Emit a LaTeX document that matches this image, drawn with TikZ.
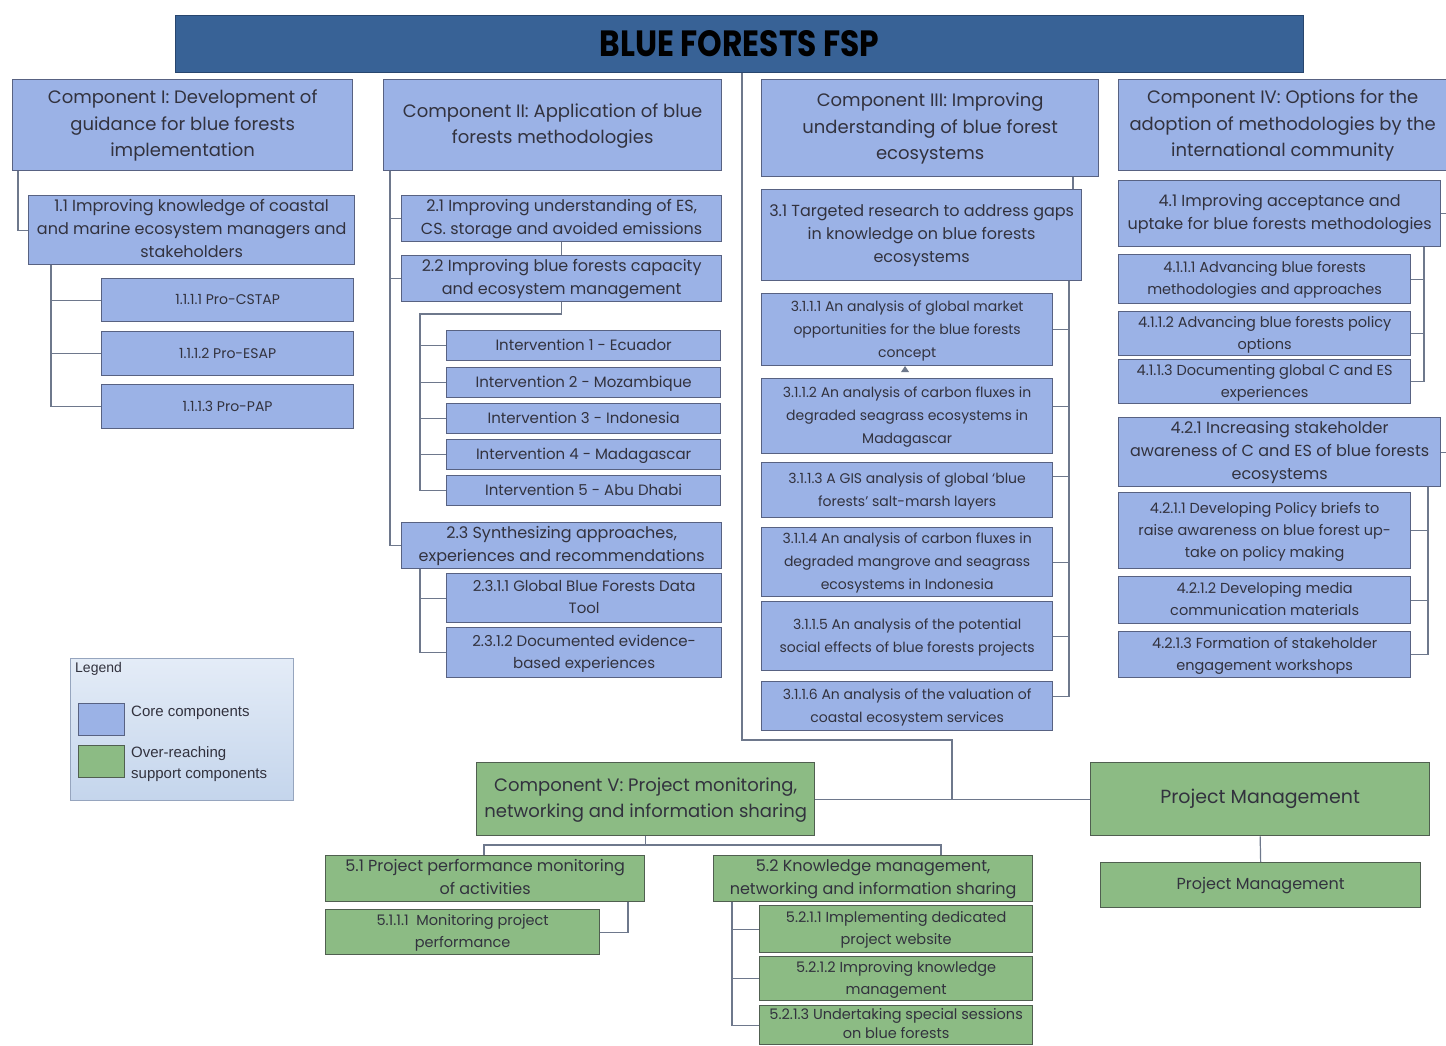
\documentclass[tikz,border=0pt]{standalone}
\usepackage{fontspec}
\setmainfont{Poppins}
\newfontfamily\legfont{Liberation Sans}
\usepackage{graphicx}
\usetikzlibrary{calc}
\definecolor{bfill}{RGB}{155,178,230}
\definecolor{bord}{RGB}{88,98,130}
\definecolor{gfill}{RGB}{140,187,132}
\definecolor{gbord}{RGB}{80,95,80}
\definecolor{tfill}{RGB}{56,98,150}
\definecolor{tbord}{RGB}{40,70,110}
\definecolor{lnk}{RGB}{110,120,140}
\definecolor{txt}{RGB}{50,50,62}
\definecolor{legtop}{RGB}{228,236,247}
\definecolor{legbot}{RGB}{196,213,236}
\definecolor{legbord}{RGB}{150,165,190}
\newlength\fitwd
\newsavebox\fitbox
\newcommand\fitt[3]{\fitwd=\dimexpr#1pt-#2pt-8pt\relax\sbox\fitbox{\begin{tabular}{@{}c@{}}#3\end{tabular}}\ifdim\wd\fitbox>\fitwd\resizebox{\fitwd}{!}{\usebox\fitbox}\else\usebox\fitbox\fi}
\newcommand\bx[7]{\node[#2, anchor=north west, minimum width={(#5-#3)*1pt}, minimum height={(#6-#4)*1pt}] (#1) at (#3,#4) {\fitt{#5}{#3}{#7}};}
\tikzset{
  core/.style={draw=bord, fill=bfill, line width=1.3pt, inner sep=0pt, text=txt},
  supp/.style={core, draw=gbord, fill=gfill},
  fc/.style={font=\fontsize{18}{26.5}\selectfont},
  fs/.style={font=\fontsize{16}{23}\selectfont},
  fm/.style={font=\fontsize{15}{22}\selectfont},
  fss/.style={font=\fontsize{14}{23}\selectfont},
  fsx/.style={font=\fontsize{14.5}{22}\selectfont},
  link/.style={draw=lnk, line width=1.2pt},
}
\begin{document}
\begin{tikzpicture}[x=1pt,y=-1pt]
\useasboundingbox (0,0) rectangle (1446,1045);
\fill[white] (0,0) rectangle (1446,1045);
% title
\node[draw=tbord, fill=tfill, line width=1pt, anchor=north west, minimum width=1128pt, minimum height=57pt, inner sep=0pt] (title) at (175,15) {\resizebox{280pt}{26pt}{\bfseries BLUE FORESTS FSP}};
% components
\bx{c1}{core,fc}{12}{79}{352}{170}{Component I: Development of\\guidance for blue forests\\implementation}
\bx{c2}{core,fc}{383}{79}{721}{170}{Component II: Application of blue\\forests methodologies}
\bx{c3}{core,fc}{761}{79}{1098}{176}{Component III: Improving\\understanding of blue forest\\ecosystems}
\bx{c4}{core,fc}{1118}{79}{1446}{170}{Component IV: Options for the\\adoption of methodologies by the\\international community}
% column I
\bx{s11}{core,fs}{28}{195}{354}{260}{1.1 Improving knowledge of coastal\\and marine ecosystem managers and\\stakeholders}
\bx{s1111}{core,fss}{101}{278}{353}{321}{1.1.1.1 Pro-CSTAP}
\bx{s1112}{core,fss}{101}{331}{353}{375}{1.1.1.2 Pro-ESAP}
\bx{s1113}{core,fss}{101}{384}{353}{428}{1.1.1.3 Pro-PAP}
% column II
\bx{s21}{core,fs}{401}{195}{721}{241}{2.1 Improving understanding of ES,\\CS. storage and avoided emissions}
\bx{s22}{core,fs}{401}{255}{721}{299}{2.2 Improving blue forests capacity\\and ecosystem management}
\bx{iv1}{core,fm}{446}{330}{720}{360}{Intervention 1 - Ecuador}
\bx{iv2}{core,fm}{446}{367}{720}{397}{Intervention 2 - Mozambique}
\bx{iv3}{core,fm}{446}{403}{720}{433}{Intervention 3 - Indonesia}
\bx{iv4}{core,fm}{446}{439}{720}{469}{Intervention 4 - Madagascar}
\bx{iv5}{core,fm}{446}{475}{720}{505}{Intervention 5 - Abu Dhabi}
\bx{s23}{core,fs}{401}{522}{721}{566}{2.3 Synthesizing approaches,\\experiences and recommendations}
\bx{s2311}{core,fm}{446}{573}{721}{622}{2.3.1.1 Global Blue Forests Data\\Tool}
\bx{s2312}{core,fm}{446}{627}{721}{677}{2.3.1.2 Documented evidence-\\based experiences}
% column III
\bx{s31}{core,fs}{761}{189}{1081}{280}{3.1 Targeted research to address gaps\\in knowledge on blue forests\\ecosystems}
\bx{s3111}{core,fss}{761}{293}{1052}{365}{3.1.1.1 An analysis of global market\\opportunities for the blue forests\\concept}
\bx{s3112}{core,fss}{761}{378}{1052}{453}{3.1.1.2 An analysis of carbon fluxes in\\degraded seagrass ecosystems in\\Madagascar}
\bx{s3113}{core,fss}{761}{462}{1052}{517}{3.1.1.3 A GIS analysis of global ‘blue\\forests’ salt-marsh layers}
\bx{s3114}{core,fss}{761}{527}{1052}{591}{3.1.1.4 An analysis of carbon fluxes in\\degraded mangrove and seagrass\\ecosystems in Indonesia}
\bx{s3115}{core,fss}{761}{601}{1052}{670}{3.1.1.5 An analysis of the potential\\social effects of blue forests projects}
\bx{s3116}{core,fss}{761}{681}{1052}{730}{3.1.1.6 An analysis of the valuation of\\coastal ecosystem services}
\fill[lnk] (901,372) -- (905,366) -- (909,372) -- cycle;
% column IV
\bx{s41}{core,fs}{1118}{180}{1440}{246}{4.1 Improving acceptance and\\uptake for blue forests methodologies}
\bx{s4111}{core,fsx}{1118}{254}{1410}{303}{4.1.1.1 Advancing blue forests\\methodologies and approaches}
\bx{s4112}{core,fsx}{1118}{311}{1410}{352}{4.1.1.2 Advancing blue forests policy\\options}
\bx{s4113}{core,fsx}{1118}{359}{1410}{401}{4.1.1.3 Documenting global C and ES\\experiences}
\bx{s421}{core,fs}{1118}{417}{1440}{484}{4.2.1 Increasing stakeholder\\awareness of C and ES of blue forests\\ecosystems}
\bx{s4211}{core,fsx}{1118}{492}{1410}{568}{4.2.1.1 Developing Policy briefs to\\raise awareness on blue forest up-\\take on policy making}
\bx{s4212}{core,fsx}{1118}{576}{1410}{623}{4.2.1.2 Developing media\\communication materials}
\bx{s4213}{core,fsx}{1118}{631}{1410}{677}{4.2.1.3 Formation of stakeholder\\engagement workshops}
% component V and project management
\bx{c5}{supp,font=\fontsize{18}{26}\selectfont}{476}{762}{814}{835}{Component V: Project monitoring,\\networking and information sharing}
\bx{pm}{supp,font=\fontsize{19}{24}\selectfont}{1090}{762}{1429}{835}{Project Management}
\bx{pms}{supp,fs}{1100}{862}{1420}{907}{Project Management}
\bx{s51}{supp,fs}{325}{855}{644}{899}{5.1 Project performance monitoring\\of activities}
\bx{s5111}{supp,fsx}{325}{909}{599}{954}{5.1.1.1 \ Monitoring project\\performance}
\bx{s52}{supp,fs}{713}{855}{1032}{899}{5.2 Knowledge management,\\networking and information sharing}
\bx{s5211}{supp,fsx}{759}{905}{1032}{952}{5.2.1.1 Implementing dedicated\\project website}
\bx{s5212}{supp,fsx}{759}{956}{1032}{1000}{5.2.1.2 Improving knowledge\\management}
\bx{s5213}{supp,font=\fontsize{14.5}{18.5}\selectfont}{759}{1005}{1032}{1044}{5.2.1.3 Undertaking special sessions\\on blue forests}
% legend
\node[draw=legbord, line width=1pt, top color=legtop, bottom color=legbot, anchor=north west, minimum width=223pt, minimum height=142pt] (leg) at (70,658) {};
\node[anchor=north west, inner sep=0pt, text=txt, font=\legfont\fontsize{14}{16}\selectfont] (legt) at (75,662) {Legend};
\node[core, line width=1.2pt, anchor=north west, minimum width=46pt, minimum height=32pt] (lgb) at (78,703) {};
\node[supp, line width=1.2pt, anchor=north west, minimum width=46pt, minimum height=32pt] (lgg) at (78,745) {};
\node[anchor=west, inner sep=0pt, text=txt, font=\legfont\fontsize{15}{20}\selectfont] (lgbt) at (131,713) {Core components};
\node[anchor=north west, inner sep=0pt, text=txt, align=left, font=\legfont\fontsize{15}{21}\selectfont] (lggt) at (131,746) {Over-reaching\\support components};
% ---- connectors ----
\draw[link] ($(c1.south west)+(6,0)$) |- (s11.west);
\foreach \n in {s1111,s1112,s1113} \draw[link] ($(s11.south west)+(23,0)$) |- (\n.west);
\foreach \n in {s21,s22,s23} \draw[link] ($(c2.south west)+(7,0)$) |- (\n.west);
\draw[link] (s21.south) -- (s22.north);
\coordinate (k2) at (420,314);
\draw[link] (s22.south) |- (k2) |- (iv5.west);
\foreach \n in {iv1,iv2,iv3,iv4} \draw[link] (k2 |- \n.west) -- (\n.west);
\foreach \n in {s2311,s2312} \draw[link] ($(s23.south west)+(19,0)$) |- (\n.west);
\coordinate (t3a) at (1073,0);
\draw[link] (c3.south -| t3a) -- (s31.north -| t3a);
\coordinate (t3) at (1069,0);
\draw[link] (s31.south -| t3) |- ([yshift=10pt]s3116.east);
\draw[link] (s3111.east) -- (s3111.east -| t3);
\draw[link] ([yshift=10pt]s3112.east) -- ([yshift=10pt]s3112.east -| t3);
\draw[link] ([yshift=14pt]s3113.east) -- ([yshift=14pt]s3113.east -| t3);
\draw[link] (s3114.east) -- (s3114.east -| t3);
\draw[link] (s3115.east) -- (s3115.east -| t3);
\coordinate (e4) at (1446,0);
\draw[link] (s41.east) -- (s41.east -| e4);
\draw[link] (s421.east) -- (s421.east -| e4);
\coordinate (t41) at (1424,0);
\draw[link] (s41.south -| t41) |- (s4113.east);
\foreach \n in {s4111,s4112} \draw[link] (\n.east) -- (\n.east -| t41);
\coordinate (t42) at (1428,0);
\draw[link] (s421.south -| t42) |- (s4213.east);
\foreach \n in {s4211,s4212} \draw[link] (\n.east) -- (\n.east -| t42);
\coordinate (tk) at (742,0);
\coordinate (jx) at (952,740);
\draw[link] (c5.east) -- (pm.west);
\draw[link] (title.south -| tk) |- (jx) -- (c5.east -| jx);
\draw[link] (pm.south) -- (pms.north);
\coordinate (j5) at (0,845);
\coordinate (a51) at (484,0);
\coordinate (a52) at (941,0);
\draw[link] (c5.south) -- (c5.south |- j5);
\draw[link] (s51.north -| a51) |- (j5 -| a52) -- (s52.north -| a52);
\coordinate (a511) at (628,0);
\draw[link] (s51.south -| a511) |- (s5111.east);
\coordinate (a52t) at (732,0);
\draw[link] (s52.south -| a52t) |- (s5213.west);
\foreach \n in {s5211,s5212} \draw[link] (a52t |- \n.west) -- (\n.west);
\end{tikzpicture}
\end{document}
